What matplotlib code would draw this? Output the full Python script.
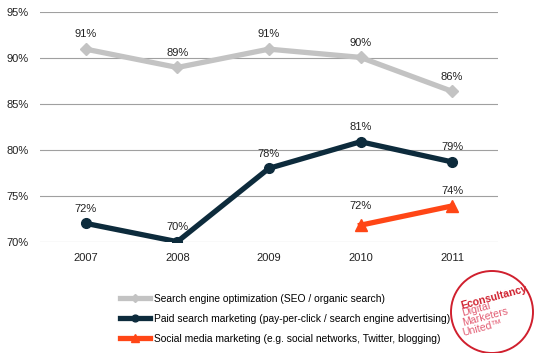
import numpy as np
import matplotlib.pyplot as plt
from matplotlib.patches import Circle

plt.rcParams['font.family'] = ['Liberation Sans', 'DejaVu Sans']

years = ['2007', '2008', '2009', '2010', '2011']
seo = [91, 89, 91, 90.1, 86.4]
paid = [72, 70, 78, 80.9, 78.7]
social_years = ['2010', '2011']
social = [71.8, 73.9]
seo_labels = ['91%', '89%', '91%', '90%', '86%']
paid_labels = ['72%', '70%', '78%', '81%', '79%']
social_labels = ['72%', '74%']
yticks = [70, 75, 80, 85, 90, 95]

fig = plt.figure(figsize=(5.4, 3.53), dpi=100)
ax = fig.add_axes([0.074, 0.314, 0.848, 0.652])

x = np.arange(len(years)) + 0.5
xs = np.array([years.index(y) for y in social_years]) + 0.5

l1, = ax.plot(x, seo, color='#c3c3c3', lw=3.8, marker='D', ms=6, zorder=3)
l2, = ax.plot(x, paid, color='#0d2b3c', lw=3.8, marker='o', ms=7, zorder=3)
l3, = ax.plot(xs, social, color='#ff4616', lw=3.8, marker='^', ms=8, zorder=3)

for xi, v, t in zip(x, seo, seo_labels):
    ax.annotate(t, (xi, v), xytext=(0, 7), textcoords='offset points',
                ha='center', va='bottom', fontsize=8, color='#222222')
for xi, v, t in zip(x, paid, paid_labels):
    ax.annotate(t, (xi, v), xytext=(0, 7), textcoords='offset points',
                ha='center', va='bottom', fontsize=8, color='#222222')
for xi, v, t in zip(xs, social, social_labels):
    off = 10 if t == '72%' else 7
    ax.annotate(t, (xi, v), xytext=(0, off), textcoords='offset points',
                ha='center', va='bottom', fontsize=8, color='#222222')

ax.set_xlim(0, len(years))
ax.set_ylim(69.95, 95.05)
ax.set_yticks(yticks)
ax.set_yticklabels([f'{t}%' for t in yticks], fontsize=8)
ax.set_xticks(x)
ax.set_xticklabels(years, fontsize=8)
ax.tick_params(axis='y', length=0, pad=8, colors='#222222')
ax.tick_params(axis='x', length=0, pad=8, colors='#222222')
ax.grid(axis='y', color='#a0a0a0', lw=0.8)
ax.set_axisbelow(True)
for s in ax.spines.values():
    s.set_visible(False)

fig.legend([l1, l2, l3],
           ['Search engine optimization (SEO / organic search)',
            'Paid search marketing (pay-per-click / search engine advertising)',
            'Social media marketing (e.g. social networks, Twitter, blogging)'],
           loc='upper left', bbox_to_anchor=(0.213, 0.183), frameon=False,
           fontsize=7.4, handlelength=2.9, labelspacing=1.0, borderpad=0,
           handletextpad=0.4, markerscale=0.7)

# logo stamp
circ = Circle((4.92, 3.53 - 3.12), 0.41, transform=fig.dpi_scale_trans,
              fill=False, ec='#d0202e', lw=1.4)
fig.patches.append(circ)
fig.text(494 / 540, 1 - 297 / 353, 'Econsultancy', color='#d0202e', fontsize=7.6,
         fontweight='bold', ha='center', va='center', rotation=15)
for i, word in enumerate(['Digital', 'Marketers', 'United\u2122']):
    fig.text(462 / 540, 1 - (313 + 10 * i) / 353, word, color='#e25c72',
             fontsize=7.6, ha='left', va='center', rotation=15,
             rotation_mode='anchor')

fig.savefig('out.png', dpi=100)
